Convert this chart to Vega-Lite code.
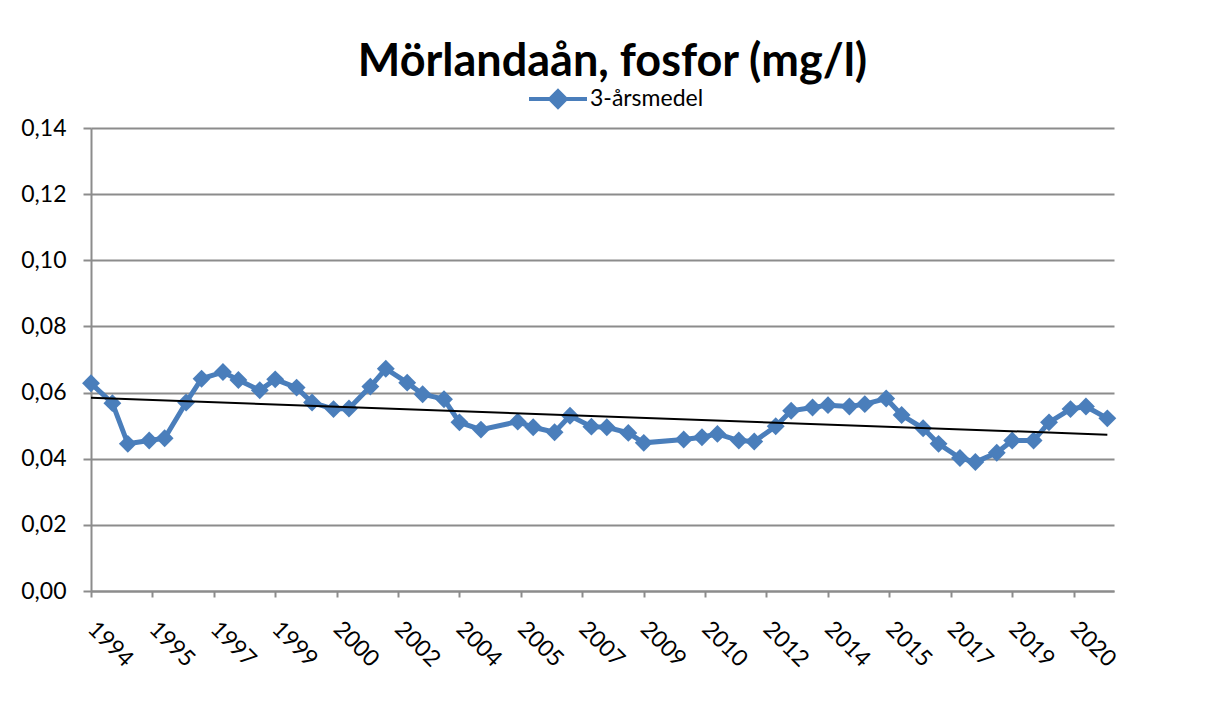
{
  "$schema": "https://vega.github.io/schema/vega-lite/v6.json",
  "width": 1023,
  "height": 463,
  "autosize": {"type": "none"},
  "padding": {"left": 91, "top": 128, "right": 99, "bottom": 120},
  "background": "white",
  "title": {
    "text": "Mörlandaån, fosfor (mg/l)",
    "font": "Lato",
    "fontSize": 45,
    "fontWeight": "bold",
    "color": "#000000",
    "anchor": "middle",
    "dx": 10,
    "offset": 30,
    "dy": 83,
    "baseline": "alphabetic"
  },
  "config": {"view": {"stroke": null}, "font": "Lato"},
  "data": {
    "format": {"parse": {"date": "date"}},
    "values": [
      {"date": "1994-01-01", "value": 0.0628, "series": "3-årsmedel"},
      {"date": "1994-08-01", "value": 0.0568, "series": "3-årsmedel"},
      {"date": "1995-01-01", "value": 0.0445, "series": "3-årsmedel"},
      {"date": "1995-08-01", "value": 0.0455, "series": "3-årsmedel"},
      {"date": "1996-01-01", "value": 0.0462, "series": "3-årsmedel"},
      {"date": "1996-08-01", "value": 0.0570, "series": "3-årsmedel"},
      {"date": "1997-01-01", "value": 0.0642, "series": "3-årsmedel"},
      {"date": "1997-08-01", "value": 0.0662, "series": "3-årsmedel"},
      {"date": "1998-01-01", "value": 0.0638, "series": "3-årsmedel"},
      {"date": "1998-08-01", "value": 0.0607, "series": "3-årsmedel"},
      {"date": "1999-01-01", "value": 0.0640, "series": "3-årsmedel"},
      {"date": "1999-08-01", "value": 0.0615, "series": "3-årsmedel"},
      {"date": "2000-01-01", "value": 0.0570, "series": "3-årsmedel"},
      {"date": "2000-08-01", "value": 0.0550, "series": "3-årsmedel"},
      {"date": "2001-01-01", "value": 0.0552, "series": "3-årsmedel"},
      {"date": "2001-08-01", "value": 0.0618, "series": "3-årsmedel"},
      {"date": "2002-01-01", "value": 0.0672, "series": "3-årsmedel"},
      {"date": "2002-08-01", "value": 0.0630, "series": "3-årsmedel"},
      {"date": "2003-01-01", "value": 0.0595, "series": "3-årsmedel"},
      {"date": "2003-08-01", "value": 0.0580, "series": "3-årsmedel"},
      {"date": "2004-01-01", "value": 0.0510, "series": "3-årsmedel"},
      {"date": "2004-08-01", "value": 0.0488, "series": "3-årsmedel"},
      {"date": "2005-08-01", "value": 0.0512, "series": "3-årsmedel"},
      {"date": "2006-01-01", "value": 0.0495, "series": "3-årsmedel"},
      {"date": "2006-08-01", "value": 0.0480, "series": "3-årsmedel"},
      {"date": "2007-01-01", "value": 0.0530, "series": "3-årsmedel"},
      {"date": "2007-08-01", "value": 0.0497, "series": "3-årsmedel"},
      {"date": "2008-01-01", "value": 0.0495, "series": "3-årsmedel"},
      {"date": "2008-08-01", "value": 0.0478, "series": "3-årsmedel"},
      {"date": "2009-01-01", "value": 0.0448, "series": "3-årsmedel"},
      {"date": "2010-02-01", "value": 0.0458, "series": "3-årsmedel"},
      {"date": "2010-08-01", "value": 0.0465, "series": "3-årsmedel"},
      {"date": "2011-01-01", "value": 0.0475, "series": "3-årsmedel"},
      {"date": "2011-08-01", "value": 0.0455, "series": "3-årsmedel"},
      {"date": "2012-01-01", "value": 0.0452, "series": "3-årsmedel"},
      {"date": "2012-08-01", "value": 0.0498, "series": "3-årsmedel"},
      {"date": "2013-01-01", "value": 0.0545, "series": "3-årsmedel"},
      {"date": "2013-08-01", "value": 0.0555, "series": "3-årsmedel"},
      {"date": "2014-01-01", "value": 0.0562, "series": "3-årsmedel"},
      {"date": "2014-08-01", "value": 0.0558, "series": "3-årsmedel"},
      {"date": "2015-01-01", "value": 0.0565, "series": "3-årsmedel"},
      {"date": "2015-08-01", "value": 0.0582, "series": "3-årsmedel"},
      {"date": "2016-01-01", "value": 0.0532, "series": "3-årsmedel"},
      {"date": "2016-08-01", "value": 0.0492, "series": "3-årsmedel"},
      {"date": "2017-01-01", "value": 0.0445, "series": "3-årsmedel"},
      {"date": "2017-08-01", "value": 0.0402, "series": "3-årsmedel"},
      {"date": "2018-01-01", "value": 0.0390, "series": "3-årsmedel"},
      {"date": "2018-08-01", "value": 0.0418, "series": "3-årsmedel"},
      {"date": "2019-01-01", "value": 0.0455, "series": "3-årsmedel"},
      {"date": "2019-08-01", "value": 0.0455, "series": "3-årsmedel"},
      {"date": "2020-01-01", "value": 0.0510, "series": "3-årsmedel"},
      {"date": "2020-08-01", "value": 0.0550, "series": "3-årsmedel"},
      {"date": "2021-01-01", "value": 0.0558, "series": "3-årsmedel"},
      {"date": "2021-08-01", "value": 0.0522, "series": "3-årsmedel"}
    ]
  },
  "encoding": {
    "x": {
      "field": "date",
      "type": "temporal",
      "scale": {
        "type": "utc",
        "domain": [
          {"year": 1994, "month": 1, "date": 1, "utc": true},
          {"year": 2021, "month": 10, "date": 6, "utc": true}
        ]
      },
      "axis": {
        "title": null,
        "grid": false,
        "values": [
          {"year": 1994, "month": 1, "date": 1, "utc": true},
          {"year": 1995, "month": 9, "date": 1, "utc": true},
          {"year": 1997, "month": 5, "date": 1, "utc": true},
          {"year": 1999, "month": 1, "date": 1, "utc": true},
          {"year": 2000, "month": 9, "date": 1, "utc": true},
          {"year": 2002, "month": 5, "date": 1, "utc": true},
          {"year": 2004, "month": 1, "date": 1, "utc": true},
          {"year": 2005, "month": 9, "date": 1, "utc": true},
          {"year": 2007, "month": 5, "date": 1, "utc": true},
          {"year": 2009, "month": 1, "date": 1, "utc": true},
          {"year": 2010, "month": 9, "date": 1, "utc": true},
          {"year": 2012, "month": 5, "date": 1, "utc": true},
          {"year": 2014, "month": 1, "date": 1, "utc": true},
          {"year": 2015, "month": 9, "date": 1, "utc": true},
          {"year": 2017, "month": 5, "date": 1, "utc": true},
          {"year": 2019, "month": 1, "date": 1, "utc": true},
          {"year": 2020, "month": 9, "date": 1, "utc": true}
        ],
        "labelExpr": "utcFormat(datum.value, '%Y')",
        "labelAngle": 45,
        "labelAlign": "left",
        "labelBaseline": "middle",
        "labelPadding": 28,
        "labelFont": "Lato",
        "labelFontSize": 23,
        "labelColor": "#000000",
        "labelOverlap": false,
        "labelFlush": false,
        "labelBound": false,
        "tickSize": 6,
        "tickWidth": 2,
        "tickColor": "#8c8c8c",
        "domainColor": "#8c8c8c",
        "domainWidth": 2
      }
    },
    "y": {
      "field": "value",
      "type": "quantitative",
      "scale": {"domain": [0, 0.14], "nice": false},
      "axis": {
        "title": null,
        "values": [0, 0.02, 0.04, 0.06, 0.08, 0.1, 0.12, 0.14],
        "labelExpr": "replace(format(datum.value, '.2f'), '.', ',')",
        "grid": true,
        "gridColor": "#8c8c8c",
        "gridWidth": 2,
        "domainColor": "#8c8c8c",
        "domainWidth": 2,
        "tickColor": "#8c8c8c",
        "tickWidth": 2,
        "tickSize": 8,
        "labelPadding": 17,
        "labelFont": "Lato",
        "labelFontSize": 23,
        "labelColor": "#000000"
      }
    }
  },
  "layer": [
    {
      "mark": {
        "type": "line",
        "strokeWidth": 5,
        "point": {"shape": "diamond", "size": 320, "filled": true, "opacity": 1}
      },
      "encoding": {
        "color": {
          "field": "series",
          "type": "nominal",
          "scale": {"range": ["#4a7ebb"]},
          "legend": {
            "orient": "none",
            "legendX": 436,
            "legendY": -60,
            "title": null,
            "padding": 0,
            "symbolType": "M-1,0L1,0M0,-0.27L0.27,0L0,0.27L-0.27,0Z",
            "symbolSize": 3364,
            "symbolStrokeWidth": 4,
            "labelFont": "Lato",
            "labelFontSize": 23,
            "labelColor": "#000000",
            "labelOffset": 1,
            "encode": {
              "symbols": {
                "update": {
                  "fill": {"value": "#4a7ebb"},
                  "stroke": {"value": "#4a7ebb"},
                  "strokeWidth": {"value": 4},
                  "opacity": {"value": 1}
                }
              }
            }
          }
        }
      }
    },
    {
      "transform": [{"regression": "value", "on": "date"}],
      "mark": {"type": "line", "color": "#000000", "strokeWidth": 2}
    }
  ]
}
